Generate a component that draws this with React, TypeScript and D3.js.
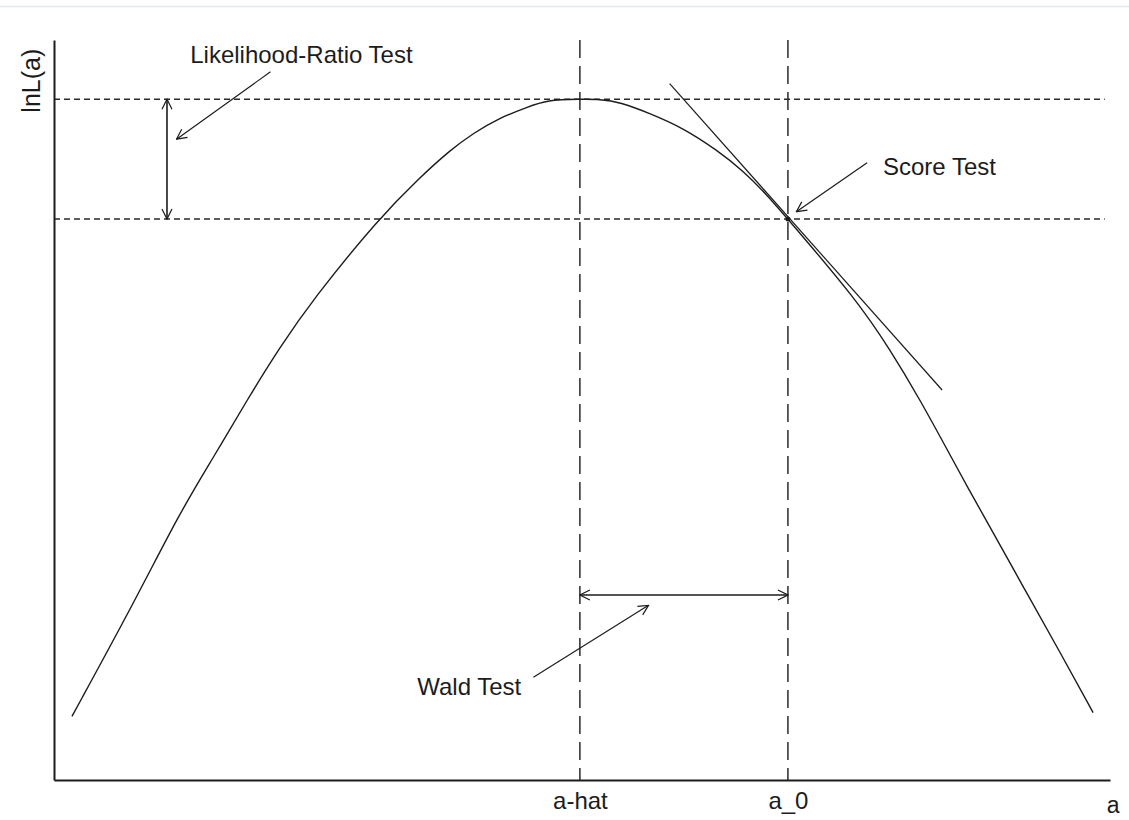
import React, { useRef, useEffect } from "react";
import * as d3 from "d3";

// log-likelihood curve: a on x, lnL(a) on y
const curveA = [0.17, 0.77, 1.19, 1.51, 1.83, 2.14, 2.45, 3.07, 3.47, 3.75, 3.97, 4.22, 4.48, 4.67, 4.98, 5.17, 5.36, 5.64, 5.96, 6.28, 6.52, 6.75, 6.95, 7.6, 7.92, 8.2, 8.46, 8.65, 8.89, 9.21, 9.53, 9.84];
const curveL = [0.86, 2.43, 3.61, 4.36, 5.14, 5.85, 6.49, 7.58, 8.15, 8.51, 8.74, 8.95, 9.09, 9.19, 9.2, 9.2, 9.16, 9.01, 8.81, 8.51, 8.24, 7.91, 7.58, 6.49, 5.81, 5.14, 4.46, 3.96, 3.35, 2.53, 1.72, 0.91];

const aHat = 4.98;
const a0 = 6.95;
const lnLMax = 9.2;
const lnLAt0 = 7.58;
const tickValues = [aHat, a0];
const tickLabels = ["a-hat", "a_0"];

// tangent at a_0 (score test)
const tangentA = [5.83, 8.41];
const tangentL = [9.41, 5.27];

// double arrows
const lrArrowA = 1.07;
const waldArrowL = 2.5;

// annotations: label, text anchor point, pointer from -> to
const noteLabels = ["Likelihood-Ratio Test", "Score Test", "Wald Test"];
const noteTextA = [1.29, 7.85, 3.44];
const noteTextL = [9.69, 8.18, 1.15];
const noteFromA = [2.05, 7.7, 4.54];
const noteFromL = [9.57, 8.34, 1.39];
const noteToA = [1.16, 7.03, 5.63];
const noteToL = [8.66, 7.68, 2.36];

const W = 1129;
const H = 820;
const font = "'Liberation Sans', Arial, sans-serif";

function App() {
  const svgRef = useRef<any>();

  useEffect(() => {
    const svg = d3.select(svgRef.current);
    svg.selectAll("*").remove();

    const x = d3.scaleLinear().domain([0, 10]).range([54, 1110]);
    const y = d3.scaleLinear().domain([0, 10]).range([780, 40]);
    const ink = "#1c1c1c";

    const defs = svg.append("defs");
    defs
      .append("marker")
      .attr("id", "open")
      .attr("viewBox", "0 0 12 12")
      .attr("refX", 11)
      .attr("refY", 6)
      .attr("markerWidth", 12)
      .attr("markerHeight", 12)
      .attr("markerUnits", "userSpaceOnUse")
      .attr("orient", "auto-start-reverse")
      .append("path")
      .attr("d", "M1,1 L11,6 L1,11")
      .attr("fill", "none")
      .attr("stroke", ink)
      .attr("stroke-width", 1.2);

    // faint frame line at the top
    svg
      .append("line")
      .attr("x1", 0)
      .attr("x2", W)
      .attr("y1", 6.5)
      .attr("y2", 6.5)
      .attr("stroke", "#e3eaee")
      .attr("stroke-width", 1.5);

    // horizontal dashed guides
    svg
      .selectAll(".hguide")
      .data([lnLMax, lnLAt0])
      .join("line")
      .attr("x1", x(0))
      .attr("x2", x(9.95))
      .attr("y1", (d) => y(d))
      .attr("y2", (d) => y(d))
      .attr("stroke", "#2a2a2a")
      .attr("stroke-width", 1.5)
      .attr("stroke-dasharray", "6,4");

    // vertical dashed guides
    svg
      .selectAll(".vguide")
      .data([aHat, a0])
      .join("line")
      .attr("x1", (d) => x(d))
      .attr("x2", (d) => x(d))
      .attr("y1", y(10))
      .attr("y2", y(0))
      .attr("stroke", "#2a2a2a")
      .attr("stroke-width", 1.5)
      .attr("stroke-dasharray", "18,8");

    // axes
    const xAxis = d3
      .axisBottom(x)
      .tickValues(tickValues)
      .tickSize(0)
      .tickSizeOuter(0)
      .tickFormat((d, i) => tickLabels[i]);
    const gx = svg.append("g").attr("transform", `translate(0,${y(0)})`).call(xAxis);
    gx.select(".domain").attr("stroke", ink).attr("stroke-width", 2);
    gx.selectAll("text")
      .attr("font-family", font)
      .attr("font-size", 24)
      .attr("fill", ink)
      .attr("dy", 0)
      .attr("y", 29);

    const yAxis = d3.axisLeft(y).tickValues([]).tickSizeOuter(0);
    const gy = svg.append("g").attr("transform", `translate(${x(0)},0)`).call(yAxis);
    gy.select(".domain").attr("stroke", ink).attr("stroke-width", 2);

    svg
      .append("text")
      .attr("x", x(10.03))
      .attr("y", 813)
      .attr("text-anchor", "middle")
      .attr("font-family", font)
      .attr("font-size", 23)
      .attr("fill", ink)
      .text("a");

    svg
      .append("text")
      .attr("transform", `translate(40,${y(9.45)}) rotate(-90)`)
      .attr("text-anchor", "middle")
      .attr("font-family", font)
      .attr("font-size", 25)
      .attr("fill", ink)
      .text("lnL(a)");

    // the curve
    const pts = curveA.map((a, i) => [a, curveL[i]] as [number, number]);
    const line = d3
      .line<[number, number]>()
      .x((d) => x(d[0]))
      .y((d) => y(d[1]))
      .curve(d3.curveBasis);
    svg
      .append("path")
      .attr("d", line(pts))
      .attr("fill", "none")
      .attr("stroke", ink)
      .attr("stroke-width", 1.4);

    // tangent
    svg
      .append("line")
      .attr("x1", x(tangentA[0]))
      .attr("y1", y(tangentL[0]))
      .attr("x2", x(tangentA[1]))
      .attr("y2", y(tangentL[1]))
      .attr("stroke", ink)
      .attr("stroke-width", 1.2);

    // likelihood-ratio double arrow
    svg
      .append("line")
      .attr("x1", x(lrArrowA))
      .attr("x2", x(lrArrowA))
      .attr("y1", y(lnLMax))
      .attr("y2", y(lnLAt0))
      .attr("stroke", ink)
      .attr("stroke-width", 1.6)
      .attr("marker-start", "url(#open)")
      .attr("marker-end", "url(#open)");

    // wald double arrow
    svg
      .append("line")
      .attr("x1", x(aHat))
      .attr("x2", x(a0))
      .attr("y1", y(waldArrowL))
      .attr("y2", y(waldArrowL))
      .attr("stroke", ink)
      .attr("stroke-width", 1.6)
      .attr("marker-start", "url(#open)")
      .attr("marker-end", "url(#open)");

    svg
      .append("circle")
      .attr("cx", x(a0))
      .attr("cy", y(lnLAt0))
      .attr("r", 2.5)
      .attr("fill", ink);

    // annotations
    noteLabels.forEach((label, i) => {
      svg
        .append("line")
        .attr("x1", x(noteFromA[i]))
        .attr("y1", y(noteFromL[i]))
        .attr("x2", x(noteToA[i]))
        .attr("y2", y(noteToL[i]))
        .attr("stroke", ink)
        .attr("stroke-width", 1.2)
        .attr("marker-end", "url(#open)");
      svg
        .append("text")
        .attr("x", x(noteTextA[i]))
        .attr("y", y(noteTextL[i]))
        .attr("font-family", font)
        .attr("font-size", 24)
        .attr("fill", ink)
        .text(label);
    });
  }, []);

  return (
    <svg
      ref={svgRef}
      width={W}
      height={H}
      style={{ position: "absolute", left: 0, top: 0, background: "#fff" }}
    />
  );
}

export default App;
